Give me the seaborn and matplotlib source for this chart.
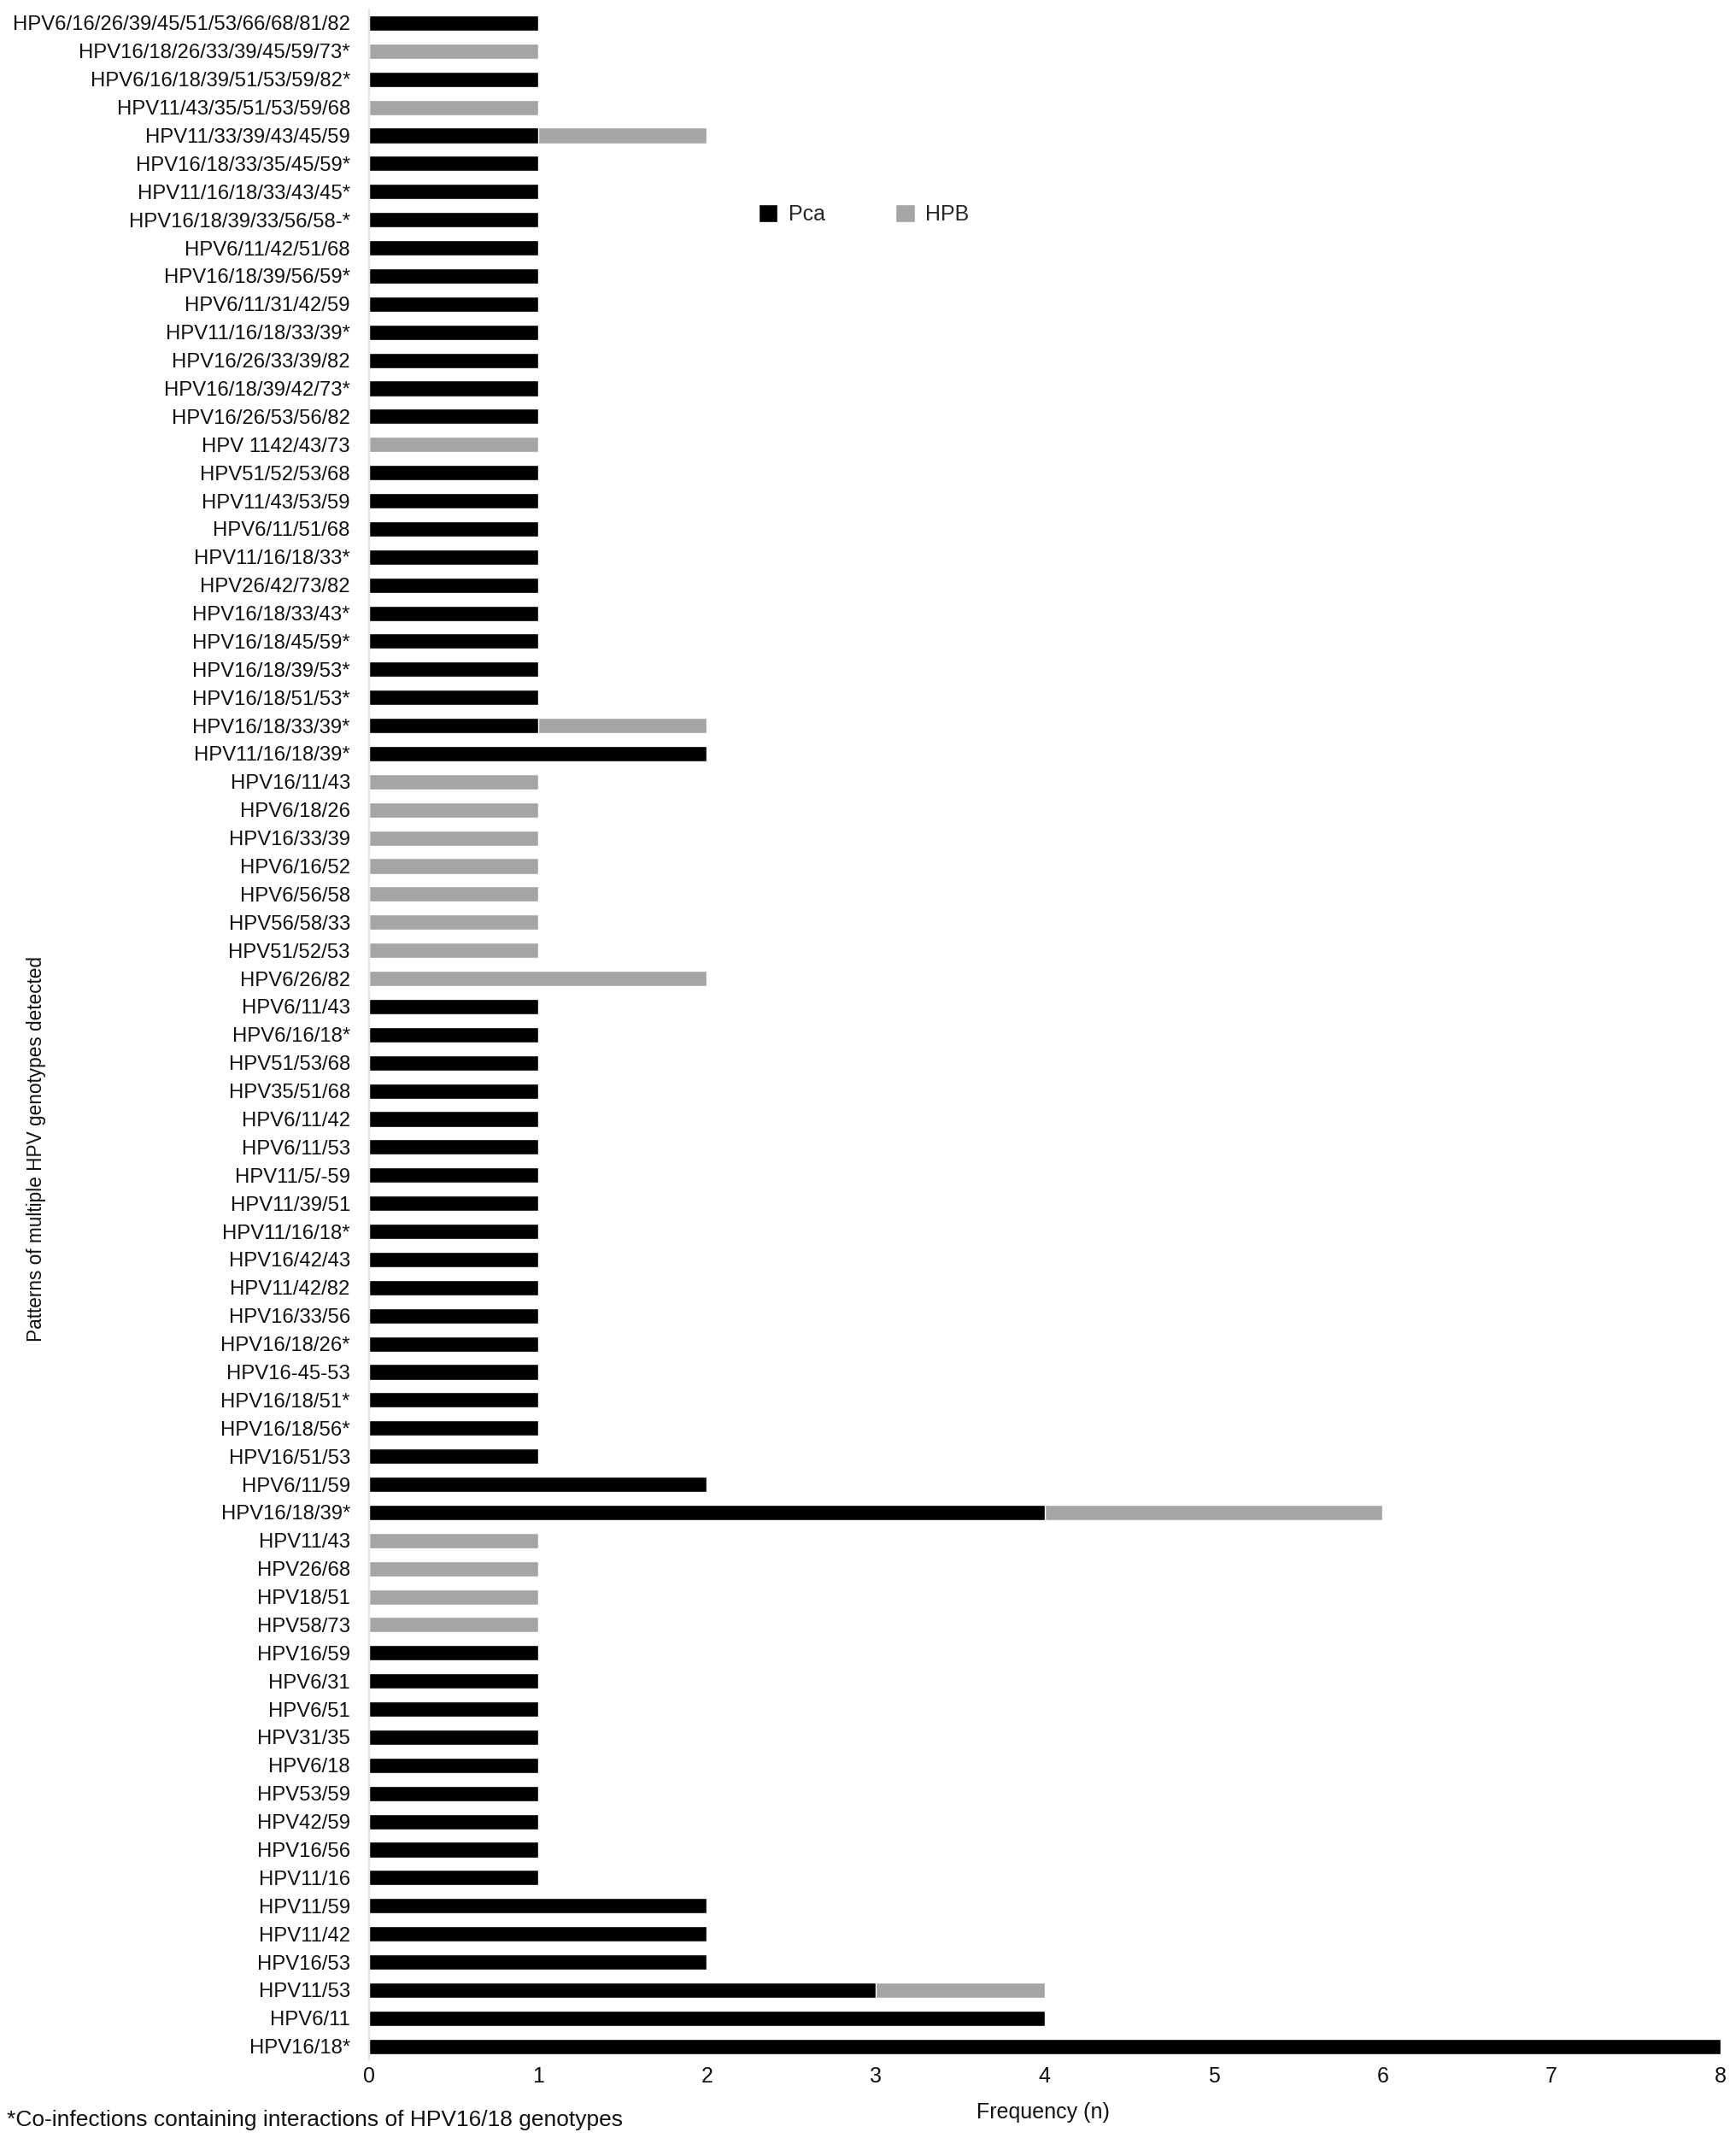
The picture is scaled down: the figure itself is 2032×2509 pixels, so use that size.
import pandas as pd
import numpy as np
import matplotlib
matplotlib.use('Agg')
import matplotlib.pyplot as plt
import seaborn as sns
from matplotlib.patches import Patch

# Patterns of multiple HPV genotypes, listed top to bottom as in the figure
patterns = [
    'HPV6/16/26/39/45/51/53/66/68/81/82', 'HPV16/18/26/33/39/45/59/73*',
    'HPV6/16/18/39/51/53/59/82*', 'HPV11/43/35/51/53/59/68',
    'HPV11/33/39/43/45/59', 'HPV16/18/33/35/45/59*', 'HPV11/16/18/33/43/45*',
    'HPV16/18/39/33/56/58-*', 'HPV6/11/42/51/68', 'HPV16/18/39/56/59*',
    'HPV6/11/31/42/59', 'HPV11/16/18/33/39*', 'HPV16/26/33/39/82',
    'HPV16/18/39/42/73*', 'HPV16/26/53/56/82', 'HPV 1142/43/73',
    'HPV51/52/53/68', 'HPV11/43/53/59', 'HPV6/11/51/68', 'HPV11/16/18/33*',
    'HPV26/42/73/82', 'HPV16/18/33/43*', 'HPV16/18/45/59*', 'HPV16/18/39/53*',
    'HPV16/18/51/53*', 'HPV16/18/33/39*', 'HPV11/16/18/39*', 'HPV16/11/43',
    'HPV6/18/26', 'HPV16/33/39', 'HPV6/16/52', 'HPV6/56/58', 'HPV56/58/33',
    'HPV51/52/53', 'HPV6/26/82', 'HPV6/11/43', 'HPV6/16/18*', 'HPV51/53/68',
    'HPV35/51/68', 'HPV6/11/42', 'HPV6/11/53', 'HPV11/5/-59', 'HPV11/39/51',
    'HPV11/16/18*', 'HPV16/42/43', 'HPV11/42/82', 'HPV16/33/56',
    'HPV16/18/26*', 'HPV16-45-53', 'HPV16/18/51*', 'HPV16/18/56*',
    'HPV16/51/53', 'HPV6/11/59', 'HPV16/18/39*', 'HPV11/43', 'HPV26/68',
    'HPV18/51', 'HPV58/73', 'HPV16/59', 'HPV6/31', 'HPV6/51', 'HPV31/35',
    'HPV6/18', 'HPV53/59', 'HPV42/59', 'HPV16/56', 'HPV11/16', 'HPV11/59',
    'HPV11/42', 'HPV16/53', 'HPV11/53', 'HPV6/11', 'HPV16/18*',
]

pca = [1, 0, 1, 0, 1, 1, 1, 1, 1, 1, 1, 1, 1, 1, 1, 0, 1, 1, 1, 1, 1, 1, 1, 1,
       1, 1, 2, 0, 0, 0, 0, 0, 0, 0, 0, 1, 1, 1, 1, 1, 1, 1, 1, 1, 1, 1, 1, 1,
       1, 1, 1, 1, 2, 4, 0, 0, 0, 0, 1, 1, 1, 1, 1, 1, 1, 1, 1, 2, 2, 2, 3, 4, 8]

hpb = [0, 1, 0, 1, 1, 0, 0, 0, 0, 0, 0, 0, 0, 0, 0, 1, 0, 0, 0, 0, 0, 0, 0, 0,
       0, 1, 0, 1, 1, 1, 1, 1, 1, 1, 2, 0, 0, 0, 0, 0, 0, 0, 0, 0, 0, 0, 0, 0,
       0, 0, 0, 0, 0, 2, 1, 1, 1, 1, 0, 0, 0, 0, 0, 0, 0, 0, 0, 0, 0, 0, 1, 0, 0]

freq_ticks = [0, 1, 2, 3, 4, 5, 6, 7, 8]

df = pd.DataFrame({'Pattern': patterns, 'Pca': pca, 'HPB': hpb})
df['Total'] = df['Pca'] + df['HPB']

sns.set_theme(style='white')
plt.rcParams['font.family'] = ['Liberation Sans', 'DejaVu Sans']

black = '#000000'
grey = '#a5a5a5'
fs = 17.2

fig, ax = plt.subplots(figsize=(20.32, 25.09), dpi=100)
fig.subplots_adjust(left=0.2126, right=0.991, top=0.9958, bottom=0.039)

# stacked bars: total in grey underneath, Pca in black on top
sns.barplot(data=df, x='Total', y='Pattern', color=grey, width=0.55,
            saturation=1, orient='h', ax=ax)
sns.barplot(data=df, x='Pca', y='Pattern', color=black, width=0.55,
            saturation=1, orient='h', ax=ax)

ax.set_xlim(0, 8)
ax.set_ylim(len(patterns) - 0.5, -0.5)
ax.set_xticks(freq_ticks)
ax.set_xlabel('')
ax.set_ylabel('')
ax.tick_params(axis='y', length=0, pad=16, labelsize=fs, colors='#111111')
ax.tick_params(axis='x', length=0, pad=5, labelsize=18, colors='#111111')

for side in ['top', 'right', 'bottom']:
    ax.spines[side].set_visible(False)
ax.spines['left'].set_color('#e6e6e6')
ax.spines['left'].set_linewidth(1.5)

handles = [Patch(facecolor=black, label='Pca'), Patch(facecolor=grey, label='HPB')]
fig.legend(handles=handles, loc='center', bbox_to_anchor=(0.4975, 0.9),
           ncol=2, frameon=False, fontsize=18, handlelength=0.9,
           handleheight=0.9, handletextpad=0.5, columnspacing=3.3)

fig.text(0.021, 0.464, 'Patterns of multiple HPV genotypes detected',
         rotation=90, ha='center', va='center', fontsize=16.3, color='#111111')
fig.text(0.601, 0.0148, 'Frequency (n)', ha='center', va='center',
         fontsize=18, color='#111111')
fig.text(0.004, 0.011, '*Co-infections containing interactions of HPV16/18 genotypes',
         ha='left', va='center', fontsize=19, color='#111111')

fig.savefig('out.png', dpi=100)
